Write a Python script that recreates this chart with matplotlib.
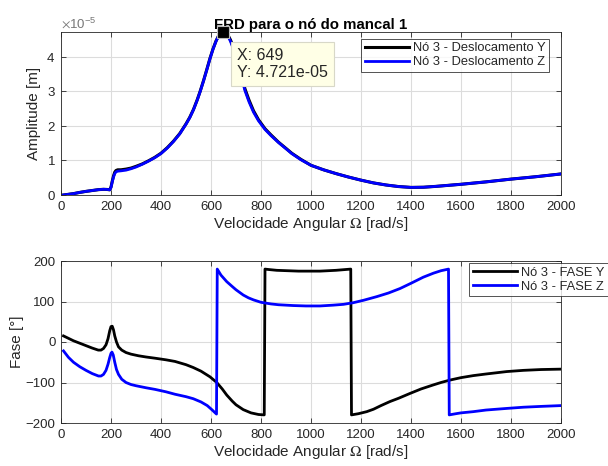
import matplotlib
matplotlib.use("Agg")
import matplotlib.pyplot as plt
from matplotlib.ticker import ScalarFormatter
import numpy as np

plt.rcParams['font.family'] = ['Liberation Sans', 'DejaVu Sans']
plt.rcParams['mathtext.fontset'] = 'stix'

# ---------------- data ----------------
omega_amp = [10, 30, 50, 75, 100, 125, 150, 170, 185, 195, 200, 205, 210, 215, 220,
             227, 240, 260, 280, 300, 325, 350, 375, 400, 425, 450, 475, 500, 515,
             530, 545, 556, 570, 583, 596, 608, 620, 630, 640, 649, 658, 668, 678,
             690, 700, 710, 722, 736, 752, 770, 790, 816, 840, 870, 900, 923, 960,
             1000, 1050, 1100, 1150, 1200, 1250, 1300, 1350, 1400, 1450, 1500, 1550,
             1600, 1700, 1800, 1900, 2000]
amp_z = [0.0, 0.02, 0.04, 0.075, 0.105, 0.13, 0.155, 0.165, 0.16, 0.15, 0.22, 0.38,
         0.52, 0.62, 0.67, 0.69, 0.70, 0.72, 0.76, 0.81, 0.89, 0.98, 1.08, 1.20, 1.36,
         1.55, 1.77, 2.05, 2.24, 2.47, 2.75, 2.98, 3.30, 3.62, 3.95, 4.22, 4.45, 4.60,
         4.69, 4.721, 4.69, 4.60, 4.45, 4.22, 4.00, 3.75, 3.40, 3.02, 2.70, 2.40, 2.15,
         1.90, 1.72, 1.52, 1.34, 1.20, 1.02, 0.86, 0.73, 0.62, 0.52, 0.43, 0.35, 0.29,
         0.245, 0.22, 0.225, 0.25, 0.28, 0.31, 0.38, 0.46, 0.53, 0.61]
amp_y = [0.0, 0.02, 0.04, 0.075, 0.105, 0.13, 0.155, 0.165, 0.16, 0.15, 0.23, 0.40,
         0.55, 0.66, 0.71, 0.73, 0.73, 0.75, 0.78, 0.83, 0.90, 0.99, 1.09, 1.21, 1.37,
         1.56, 1.78, 2.06, 2.25, 2.48, 2.76, 2.99, 3.31, 3.63, 3.96, 4.23, 4.46, 4.61,
         4.70, 4.721, 4.70, 4.63, 4.49, 4.27, 4.06, 3.81, 3.46, 3.07, 2.75, 2.44, 2.18,
         1.92, 1.74, 1.53, 1.35, 1.21, 1.03, 0.86, 0.73, 0.62, 0.52, 0.43, 0.35, 0.29,
         0.245, 0.22, 0.225, 0.25, 0.28, 0.31, 0.38, 0.46, 0.53, 0.61]

omega_fy = [10, 30, 50, 75, 100, 125, 149, 160, 170, 180, 188, 195, 200, 205, 210,
            215, 222, 230, 243, 260, 280, 310, 340, 376, 420, 456, 500, 529, 560, 596,
            623, 645, 663, 685, 700, 729, 760, 790, 813, 816, 830, 863, 950, 1036,
            1100, 1159, 1162, 1190, 1223, 1250, 1280, 1316, 1350, 1396, 1440, 1489,
            1520, 1556, 1600, 1649, 1700, 1783, 1850, 1920, 2000]
fase_y = [15, 9, 3, -3, -9, -15, -20, -20, -16, -7, 8, 28, 38, 39, 30,
          15, 0, -12, -20, -26, -30, -34, -37, -40, -44, -48, -56, -63, -72, -86,
          -100, -116, -131, -146, -155, -167, -175, -179, -180, 180, 179, 177, 175, 175,
          177, 180, -180, -177, -172, -166, -157, -147, -139, -127, -116, -106,
          -100, -94, -88, -83, -79, -73, -70, -68, -67]

omega_fz = [10, 30, 50, 75, 100, 125, 150, 160, 170, 180, 188, 195, 200, 204, 209,
            215, 222, 230, 243, 260, 280, 300, 340, 376, 420, 456, 500, 529, 560, 585,
            605, 622, 625, 640, 663, 685, 700, 729, 750, 770, 800, 840, 870, 929, 980,
            1036, 1089, 1130, 1169, 1210, 1263, 1310, 1356, 1400, 1449, 1490, 1520,
            1550, 1553, 1580, 1600, 1649, 1700, 1783, 1850, 1920, 2000]
fase_z = [-22, -38, -50, -61, -70, -78, -84, -84, -80, -70, -55, -38, -28, -25, -32,
          -50, -68, -80, -92, -100, -105, -108, -113, -117, -123, -129, -135, -140, -148, -157,
          -168, -178, 180, 165, 149, 137, 129, 116, 109, 104, 98, 94, 92, 90, 89,
          89, 91, 93, 97, 103, 112, 121, 132, 145, 160, 170, 176,
          180, -180, -177, -175, -172, -168, -164, -161, -159, -157]

peak_x = 649
peak_y = 4.721e-5

labels_amp = ['Nó 3 - Deslocamento Y', 'Nó 3 - Deslocamento Z']
labels_fase = ['Nó 3 - FASE Y', 'Nó 3 - FASE Z']

# ---------------- figure ----------------
W, H = 608, 466
fig = plt.figure(figsize=(W / 100, H / 100), dpi=100)
dark = '#262626'
grid_c = '#dcdcdc'

ax1 = fig.add_axes([61 / W, 1 - 195 / H, 500 / W, 163 / H])
ax2 = fig.add_axes([61 / W, 1 - 423 / H, 500 / W, 162 / H])

ax1.plot(omega_amp, np.array(amp_y) * 1e-5, color='black', lw=2.2, label=labels_amp[0])
ax1.plot(omega_amp, np.array(amp_z) * 1e-5, color='#0000ff', lw=2.0, label=labels_amp[1])
ax2.plot(omega_fy, fase_y, color='black', lw=2.0, label=labels_fase[0])
ax2.plot(omega_fz, fase_z, color='#0000ff', lw=2.0, label=labels_fase[1])

for ax in (ax1, ax2):
    ax.set_xlim(0, 2000)
    ax.set_xticks(range(0, 2001, 200))
    ax.grid(True, color=grid_c, lw=0.8)
    ax.set_axisbelow(True)
    ax.tick_params(direction='in', top=True, right=True, labelsize=9.5,
                   colors=dark, length=3.5, width=0.6, pad=4)
    for s in ax.spines.values():
        s.set_color(dark)
        s.set_linewidth(0.6)
    ax.set_xlabel('Velocidade Angular $\\Omega$ [rad/s]', fontsize=11, color=dark,
                  labelpad=2)

ax1.set_ylim(0, peak_y)
ax1.set_yticks(np.arange(0, 5) * 1e-5)
fmt = ScalarFormatter(useMathText=True)
fmt.set_powerlimits((0, 0))
ax1.yaxis.set_major_formatter(fmt)
ax1.yaxis.get_offset_text().set_color('#777777')
ax1.yaxis.get_offset_text().set_fontsize(9.5)
ax1.set_ylabel('Amplitude [m]', fontsize=11, color=dark, labelpad=4)
ax1.set_title('FRD para o nó do mancal 1', fontsize=10.8, fontweight='bold',
              color='black', pad=2)

ax2.set_ylim(-200, 200)
ax2.set_yticks([-200, -100, 0, 100, 200])
ax2.set_ylabel('Fase [°]', fontsize=11, color=dark, labelpad=1)

leg1 = ax1.legend(loc='upper right', bbox_to_anchor=(0.976, 0.96), fontsize=9.3,
                  frameon=True, fancybox=False, edgecolor=dark, borderpad=0.3,
                  handlelength=3.4, handletextpad=0.3, labelspacing=0.15,
                  borderaxespad=0)
leg1.get_frame().set_linewidth(0.7)
for t in leg1.get_texts():
    t.set_color(dark)

leg2 = ax2.legend(loc='upper left', bbox_to_anchor=(0.816, 0.99), fontsize=9.3,
                  frameon=True, fancybox=False, edgecolor=dark, borderpad=0.3,
                  handlelength=3.4, handletextpad=0.3, labelspacing=0.15,
                  borderaxespad=0)
leg2.get_frame().set_linewidth(0.7)
for t in leg2.get_texts():
    t.set_color(dark)

# data tip
ax1.plot([peak_x], [peak_y], marker='s', ms=8, mfc='black', mec='#bbbbbb', mew=0.8,
         clip_on=False, zorder=5)
ax1.annotate('X: %d\nY: %.3e' % (peak_x, peak_y), xy=(peak_x, peak_y),
             xytext=(14, -16), textcoords='offset pixels', ha='left', va='top',
             fontsize=11.5, color=dark, linespacing=1.15,
             bbox=dict(boxstyle='square,pad=0.38', fc='#ffffe6', ec='#d8d8c8', lw=0.8),
             zorder=6, annotation_clip=False)

fig.savefig('out.png', dpi=100)
